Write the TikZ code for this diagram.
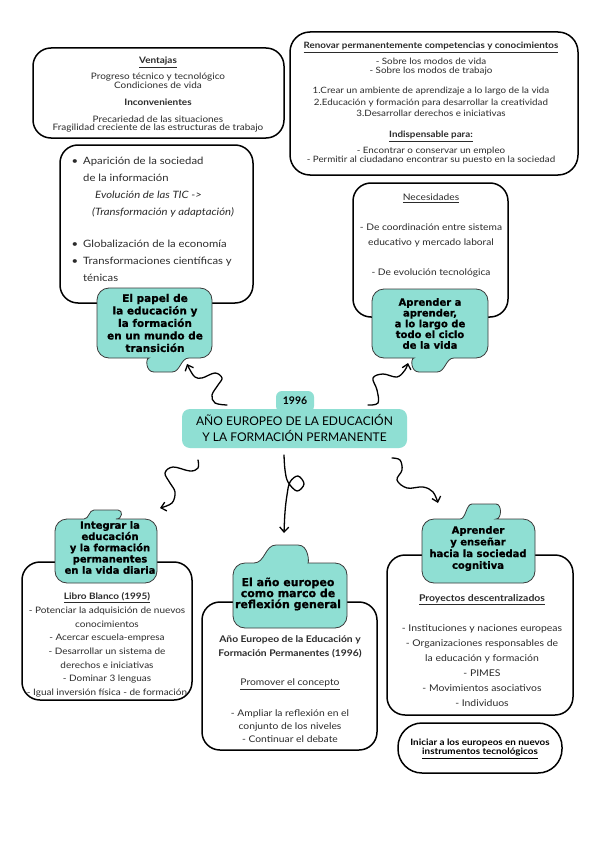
\documentclass[tikz,border=0pt]{standalone}
\usepackage{fontspec}
\setmainfont{Lato}[FakeStretch=1.12]
\newfontfamily\titlefont{Lato}
\newfontfamily\headfont{DejaVu Sans}[BoldFeatures={FakeBold=0.8}]
\usetikzlibrary{arrows.meta}
\definecolor{mint}{HTML}{8FDFD3}
\definecolor{ink}{HTML}{2B2B2B}
\definecolor{blobline}{HTML}{3A3A3A}
\lineskiplimit=-20pt
% x1 y1 x2 y2 cx top hb ht
\newcommand\blobup[8]{%
 \draw[blobst] ({#5-#7},#2) [rounded corners=12pt] -- (#1,#2) -- (#1,#4) -- (#3,#4) -- (#3,#2) -- ({#5+#7},#2) [sharp corners]
 .. controls ({#5+(#7+#8)/2},#2) and ({#5+(#7+#8)/2},#6) .. ({#5+#8},#6) -- ({#5-#8},#6)
 .. controls ({#5-(#7+#8)/2},#6) and ({#5-(#7+#8)/2},#2) .. ({#5-#7},#2) -- cycle;}
\newcommand\blobdown[8]{%
 \draw[blobst] ({#5+#7},#4) [rounded corners=12pt] -- (#3,#4) -- (#3,#2) -- (#1,#2) -- (#1,#4) -- ({#5-#7},#4) [sharp corners]
 .. controls ({#5-(#7+#8)/2},#4) and ({#5-(#7+#8)/2},#6) .. ({#5-#8},#6) -- ({#5+#8},#6)
 .. controls ({#5+(#7+#8)/2},#6) and ({#5+(#7+#8)/2},#4) .. ({#5+#7},#4) -- cycle;}
\begin{document}
\begin{tikzpicture}[x=1pt,y=-1pt,
  box/.style={draw=black,line width=1.5pt,rounded corners=18pt,fill=white},
  blobst/.style={fill=mint,draw=blobline,line width=0.8pt},
  txt/.style={inner sep=0pt,align=center,text=ink},
  head/.style={inner sep=0pt,align=center,text=black,font=\headfont\bfseries\fontsize{10}{11}\selectfont},
  arr/.style={line width=1.3pt,line cap=round,line join=round,-{Straight Barb[length=5pt,width=9pt]}}]
\useasboundingbox (0,0) rectangle (599,848);
\fill[white] (0,0) rectangle (599,848);

% white boxes
\draw[box] (33,48) rectangle (284,138);
\draw[box,rounded corners=20pt] (290,32) rectangle (578,175);
\draw[box] (60,145) rectangle (253,303);
\draw[box] (353,183) rectangle (508,317);
\draw[box] (22,562) rectangle (192,700);
\draw[box] (202,602) rectangle (377,750);
\draw[box] (387,555) rectangle (573,715);
\draw[box,rounded corners=24pt] (398,723) rectangle (562,773);

% teal blobs
\blobdown{97}{288}{212}{358}{163}{372}{26}{9}
\blobdown{372}{289}{488}{358}{428}{372}{26}{9}
\blobup{55}{519}{157}{583}{106}{510}{22}{12}
\blobup{233}{563}{347}{628}{287}{545}{33}{11}
\blobup{422}{519}{535}{583}{484}{504}{24}{12}

% central node
\fill[mint,rounded corners=8pt] (182,409) rectangle (407,448);
\fill[mint,rounded corners=6pt] (276,391) rectangle (314,412);
\node[txt,text=black,font=\titlefont\bfseries\fontsize{10.5}{12}\selectfont] (year) at (295,401) {1996};
\node[txt,text=black,font=\titlefont\fontsize{12}{16}\selectfont] (title) at (294.5,428) {AÑO EUROPEO DE LA EDUCACIÓN\\Y LA FORMACIÓN PERMANENTE};

% box texts
\node[txt,font=\fontsize{8.9}{8.5}\selectfont] (ta) at (158,95) {\textbf{\underline{Ventajas}}\\[7.5pt]
Progreso técnico y tecnológico\\
Condiciones de vida\\[8.5pt]
\textbf{Inconvenientes}\\[8.5pt]
Precariedad de las situaciones\\
Fragilidad creciente de las estructuras de trabajo};

\node[txt,font=\fontsize{8.75}{9}\selectfont] (tb) at (431,103.5) {\textbf{\underline{Renovar permanentemente competencias y conocimientos}}\\[7pt]
- Sobre los modos de vida\\
- Sobre los modos de trabajo\\[11pt]
1.Crear un ambiente de aprendizaje a lo largo de la vida\\[2.5pt]
2.Educación y formación para desarrollar la creatividad\\[2.5pt]
3.Desarrollar derechos e iniciativas\\[12pt]
\textbf{\underline{Indispensable para:}}\\[7pt]
- Encontrar o conservar un empleo\\
- Permitir al ciudadano encontrar su puesto en la sociedad};

\node[txt,align=left,anchor=west,font=\fontsize{10.1}{17}\selectfont] (tc) at (83,219.5) {\llap{•\hspace{5pt}}Aparición de la sociedad\\
de la información\\
\hspace{12pt}\textit{Evolución de las TIC ->}\\
\hspace{9pt}\textit{(Transformación y adaptación)}\\[15pt]
\llap{•\hspace{5pt}}Globalización de la economía\\
\llap{•\hspace{5pt}}Transformaciones científicas y\\
ténicas};

\node[txt,font=\fontsize{9.1}{15}\selectfont] (td) at (431,235.5) {\underline{Necesidades}\\[15pt]
- De coordinación entre sistema\\
educativo y mercado laboral\\[15pt]
- De evolución tecnológica};

\node[txt,font=\fontsize{8.9}{13.7}\selectfont] (te) at (107,645) {\textbf{\underline{Libro Blanco (1995)}}\\
- Potenciar la adquisición de nuevos\\
conocimientos\\
- Acercar escuela-empresa\\
- Desarrollar un sistema de\\
derechos e iniciativas\\
- Dominar 3 lenguas\\
- Igual inversión física - de formación};

\node[txt,font=\fontsize{9.2}{14.5}\selectfont] (tf) at (290,689) {\textbf{Año Europeo de la Educación y}\\
\textbf{Formación Permanentes (1996)}\\[14.5pt]
\underline{Promover el concepto}\\[16pt]
- Ampliar la reflexión en el\\[-1.5pt]
conjunto de los niveles\\[-1.5pt]
- Continuar el debate};

\node[txt,font=\fontsize{9.3}{15}\selectfont] (tg) at (482,650.5) {\textbf{\underline{Proyectos descentralizados}}\\[15pt]
- Instituciones y naciones europeas\\
- Organizaciones responsables de\\
la educación y formación\\
- PIMES\\
- Movimientos asociativos\\
- Individuos};

\node[txt,text=black,font=\bfseries\fontsize{8.8}{9}\selectfont] (th) at (480,749) {Iniciar a los europeos en nuevos\\\underline{instrumentos tecnológicos}};

% blob headings
\node[head,font=\headfont\bfseries\fontsize{10.5}{12.5}\selectfont] (hc) at (155,323) {El papel de\\la educación y\\la formación\\en un mundo de\\transición};
\node[head,font=\headfont\bfseries\fontsize{10}{10.75}\selectfont] (hd) at (430,323.5) {Aprender a\\aprender,\\a lo largo de\\todo el ciclo\\de la vida};
\node[head,font=\headfont\bfseries\fontsize{10}{11.25}\selectfont] (he) at (110,547.5) {Integrar la\\educación\\y la formación\\permanentes\\en la vida diaria};
\node[head,font=\headfont\bfseries\fontsize{11}{11}\selectfont] (hf) at (288,594) {El año europeo\\como marco de\\reflexión general};
\node[head,font=\headfont\bfseries\fontsize{10}{11.7}\selectfont] (hg) at (478,548.5) {Aprender\\y enseñar\\hacia la sociedad\\cognitiva};

% connector end points
\coordinate (luS) at (227,405); \coordinate (luE) at (187,364);
\coordinate (ruS) at (368,405); \coordinate (ruE) at (408,363);
\coordinate (ldS) at (198,460); \coordinate (ldE) at (160,508);
\coordinate (cdS) at (284,455); \coordinate (cdE) at (284,533);
\coordinate (rdS) at (392,458); \coordinate (rdE) at (438,503);

\draw[arr] plot[smooth,tension=0.6] coordinates {(luS) (215,403) (212,395) (218,385) (222,378) (215,373) (202,378) (195,377) (190,370) (luE)};
\draw[arr] plot[smooth,tension=0.6] coordinates {(ruS) (378,403) (377,390) (373,378) (383,374) (397,377) (405,370) (ruE)};
\draw[arr] plot[smooth,tension=0.6] coordinates {(ldS) (198,468) (190,471) (173,467) (165,473) (170,483) (175,492) (172,503) (ldE)};
\draw[arr] plot[smooth,tension=0.6] coordinates {(cdS) (285,470) (288,482) (297,491) (304,484) (298,476) (290,482) (287,495) (285,512) (cdE)};
\draw[arr] plot[smooth,tension=0.6] coordinates {(rdS) (400,460) (402,470) (397,480) (407,488) (423,487) (433,492) (rdE)};
\end{tikzpicture}
\end{document}
